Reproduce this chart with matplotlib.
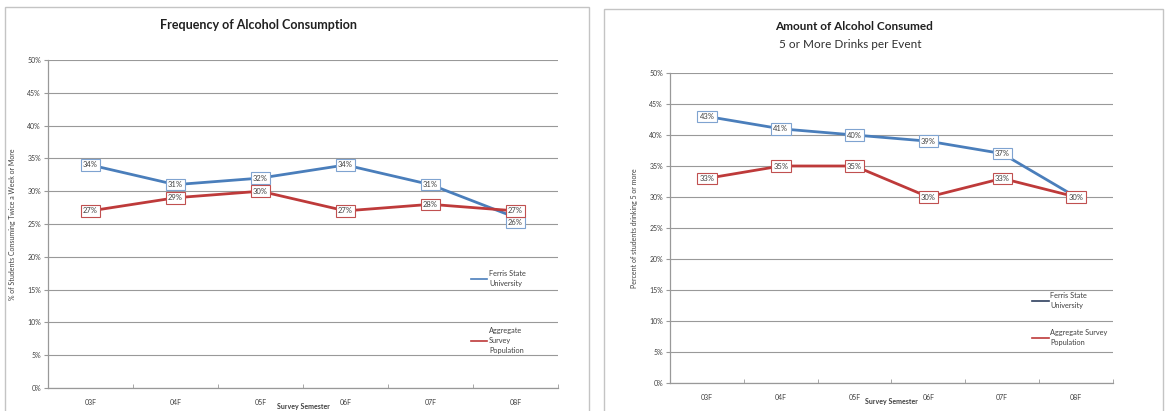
import matplotlib
matplotlib.use("Agg")
import matplotlib.pyplot as plt
from matplotlib.legend import Legend
from matplotlib.lines import Line2D
from matplotlib.patches import Rectangle
from matplotlib.ticker import FuncFormatter, MultipleLocator

plt.rcParams['font.family'] = ['Lato', 'DejaVu Sans']

semesters = ["03F", "04F", "05F", "06F", "07F", "08F"]

# frequency chart (left)
freq_ferris = [34, 31, 32, 34, 31, 26]
freq_aggregate = [27, 29, 30, 27, 28, 27]

# amount chart (right)
amount_ferris = [43, 41, 40, 39, 37, 30]
amount_aggregate = [33, 35, 35, 30, 33, 30]

BLUE = "#4a7ebb"
RED = "#be3a3a"
GRID = "#999999"
TXT = "#404040"

fig = plt.figure(figsize=(11.65, 4.11), dpi=100)
fig.patch.set_facecolor("white")

# panel frames
fig.add_artist(Rectangle((5 / 1165, -0.05), 584 / 1165, 1.05 - 7 / 411,
                         transform=fig.transFigure, fill=False,
                         edgecolor="#c4c4c4", lw=1.0))
fig.add_artist(Rectangle((604 / 1165, -0.05), 559 / 1165, 1.05 - 9 / 411,
                         transform=fig.transFigure, fill=False,
                         edgecolor="#c4c4c4", lw=1.0))


def label(ax, i, v, dy, edge):
    ax.annotate(f"{v}%", (i, v), xytext=(0, dy), textcoords="offset points",
                ha="center", va="center", fontsize=5.5, color=TXT, zorder=5,
                bbox=dict(boxstyle="square,pad=0.3", fc="white",
                          ec=edge, lw=0.8))


def draw_panel(ax, ferris, aggregate, ylabel):
    x = list(range(len(semesters)))
    ax.plot(x, ferris, color=BLUE, lw=2.0, zorder=3)
    ax.plot(x, aggregate, color=RED, lw=2.0, zorder=3)

    for i in x:
        f, a = ferris[i], aggregate[i]
        if f == a:
            label(ax, i, a, 0, "#c05050")
            continue
        df = da = 0
        if abs(f - a) < 2:
            if f < a:
                df = -3.5
            else:
                da = -3.5
        label(ax, i, f, df, "#7fa3d0")
        label(ax, i, a, da, "#c05050")

    ax.set_xlim(-0.5, len(x) - 0.5)
    ax.set_ylim(0, 50)
    ax.yaxis.set_major_locator(MultipleLocator(5))
    ax.yaxis.set_major_formatter(FuncFormatter(lambda v, p: f"{int(v)}%"))
    ax.set_xticks(x)
    ax.set_xticklabels(semesters)
    ax.set_xticks([i + 0.5 for i in range(-1, len(x))], minor=True)
    ax.tick_params(axis="x", which="major", length=0, pad=8,
                   labelsize=5, labelcolor=TXT)
    ax.tick_params(axis="x", which="minor", length=3, color=GRID,
                   direction="in")
    ax.tick_params(axis="y", length=3, color=GRID, labelsize=5,
                   labelcolor=TXT, pad=2)
    ax.grid(axis="y", color=GRID, lw=0.8)
    ax.set_axisbelow(True)
    for side in ["top", "right"]:
        ax.spines[side].set_visible(False)
    for side in ["left", "bottom"]:
        ax.spines[side].set_color(GRID)
        ax.spines[side].set_linewidth(0.9)
    ax.set_ylabel(ylabel, fontsize=5, color=TXT, labelpad=8)
    ax.set_xlabel("Survey Semester", fontsize=5, fontweight="bold",
                  color=TXT, labelpad=-2)


def legend_entry(ax, color, text, anchor):
    leg = Legend(ax, [Line2D([], [], color=color, lw=1.2)], [text],
                 loc="center left", bbox_to_anchor=anchor, frameon=False,
                 fontsize=5.3, borderpad=0, borderaxespad=0,
                 handlelength=2.2, handletextpad=0.2)
    for t in leg.get_texts():
        t.set_color(TXT)
        t.set_linespacing(1.5)
    ax.add_artist(leg)


# left chart
ax1 = fig.add_axes([48 / 1165, 23 / 411, 510 / 1165, 328 / 411])
draw_panel(ax1, freq_ferris, freq_aggregate,
           "% of Students Consuming Twice a Week or More")
fig.text(259 / 1165, 1 - 25 / 411, "Frequency of Alcohol Consumption",
         ha="center", va="center", fontsize=9, fontweight="bold",
         color="#202020")
legend_entry(ax1, BLUE, "Ferris State\nUniversity", (0.83, 0.335))
legend_entry(ax1, RED, "Aggregate\nSurvey\nPopulation", (0.83, 0.146))

# right chart
ax2 = fig.add_axes([670 / 1165, 28 / 411, 443 / 1165, 310 / 411])
draw_panel(ax2, amount_ferris, amount_aggregate,
           "Percent of students drinking 5 or more")
fig.text(854 / 1165, 1 - 27 / 411, "Amount of Alcohol Consumed",
         ha="center", va="center", fontsize=8.5, fontweight="bold",
         color="#202020")
fig.text(850 / 1165, 1 - 45 / 411, "5 or More Drinks per Event",
         ha="center", va="center", fontsize=8.5, color="#303030")
legend_entry(ax2, "#2f3f5f", "Ferris State\nUniversity", (0.818, 0.265))
legend_entry(ax2, RED, "Aggregate Survey\nPopulation", (0.818, 0.147))

fig.savefig("out.png", dpi=100, facecolor="white")
